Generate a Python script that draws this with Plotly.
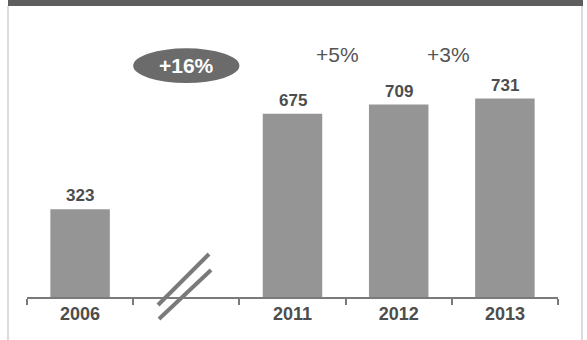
import plotly.graph_objects as go

categories = ["2006", "", "2011", "2012", "2013"]
values = [323, None, 675, 709, 731]
growth_labels = ["+16%", "+5%", "+3%"]
growth_x = [1.0, 2.42, 3.47]

W, H = 587, 340
L, R, T, B = 27, 29, 6, 43
YMAX = 1072

FONT = "Liberation Sans, Arial, sans-serif"
TXT = "#4d4d4d"

idx = list(range(len(categories)))

fig = go.Figure()
fig.add_trace(go.Bar(
    x=idx, y=values, width=0.56,
    marker=dict(color="#959595", line=dict(width=0)),
    hoverinfo="skip",
))

# value labels above bars
for i, v in zip(idx, values):
    if v is None:
        continue
    fig.add_annotation(x=i, y=v, text=f"<b>{v}</b>", showarrow=False,
                       yanchor="bottom", yshift=2,
                       font=dict(family=FONT, size=17, color=TXT))

# growth ellipse
ex, ey = growth_x[0], 852
fig.add_shape(type="circle", xref="x", yref="y",
              x0=ex - 0.5, x1=ex + 0.5, y0=ey - 64, y1=ey + 64,
              fillcolor="#6b6b6b", line=dict(width=0), layer="above")
fig.add_annotation(x=ex, y=ey, text=f"<b>{growth_labels[0]}</b>", showarrow=False,
                   font=dict(family=FONT, size=21, color="white"))
for gx, gl in zip(growth_x[1:], growth_labels[1:]):
    fig.add_annotation(x=gx, y=895, text=gl, showarrow=False,
                       font=dict(family=FONT, size=21, color="#555555"))

# axis break marks (paper coords, unclipped)
def px(x):
    return (x - L) / (W - L - R)
def py(y):
    return (H - B - y) / (H - T - B)

for (x0, y0, x1, y1) in [(158, 305, 209, 254), (159, 319, 211, 270)]:
    fig.add_shape(type="line", xref="paper", yref="paper",
                  x0=px(x0), y0=py(y0), x1=px(x1), y1=py(y1),
                  line=dict(color="#7a7a7a", width=4))

# header band and frame lines
fig.add_shape(type="rect", xref="paper", yref="paper",
              x0=px(8), x1=px(583), y0=py(6), y1=py(0),
              fillcolor="#5e5e5e", line=dict(width=0))
for xx in (8, 582):
    fig.add_shape(type="line", xref="paper", yref="paper",
                  x0=px(xx), x1=px(xx), y0=py(6), y1=py(340),
                  line=dict(color="#c4c4c4", width=1.2))

fig.update_layout(
    width=W, height=H,
    margin=dict(l=L, r=R, t=T, b=B),
    paper_bgcolor="white", plot_bgcolor="white",
    showlegend=False,
    xaxis=dict(range=[-0.5, len(categories) - 0.5],
               tickmode="array", tickvals=idx,
               ticktext=[f"<b>{c}</b>" if c else "" for c in categories],
               ticks="", ticklen=0,
               minor=dict(ticks="outside", ticklen=6, tickcolor="#7a7a7a",
                          tickwidth=1.5, tickmode="linear", tick0=-0.5, dtick=1,
                          showgrid=False),
               showline=True, linecolor="#7a7a7a", linewidth=1.5,
               showgrid=False, zeroline=False,
               tickfont=dict(family=FONT, size=18, color=TXT)),
    yaxis=dict(range=[0, YMAX], visible=False, showgrid=False, zeroline=False),
)

fig.write_html("out.html")
